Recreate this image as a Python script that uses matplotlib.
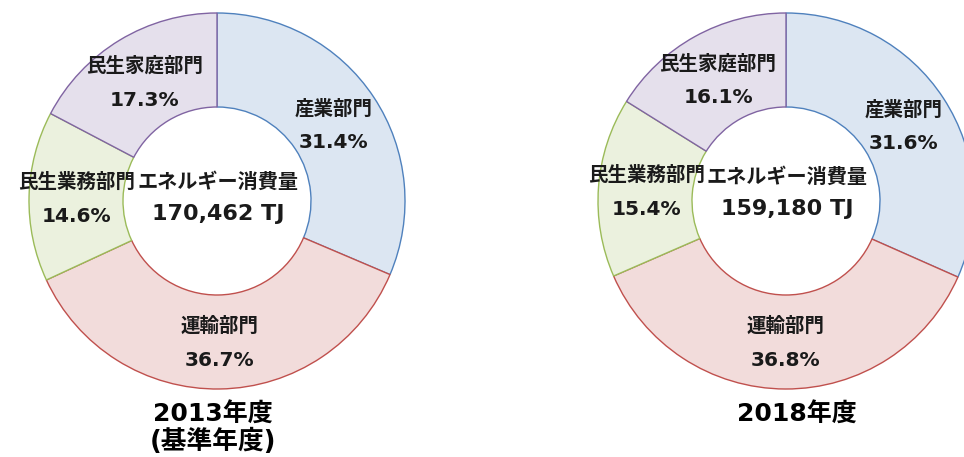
import matplotlib
matplotlib.use("Agg")
import matplotlib.pyplot as plt
import numpy as np

plt.rcParams['font.family'] = ['Noto Sans CJK JP', 'DejaVu Sans']

# ---- data ----
sectors = ['産業部門', '運輸部門', '民生業務部門', '民生家庭部門']
share_2013 = [31.4, 36.7, 14.6, 17.3]
share_2018 = [31.6, 36.8, 15.4, 16.1]
total_2013 = '170,462 TJ'
total_2018 = '159,180 TJ'
title_2013 = ['2013年度', '(基準年度)']
title_2018 = ['2018年度']
center_label = 'エネルギー消費量'

fills = ['#dce6f2', '#f2dcdb', '#ebf1de', '#e5e0ec']
edges = ['#4f81bd', '#c0504d', '#9bbb59', '#8064a2']

W, H = 964, 457
fig = plt.figure(figsize=(W / 100, H / 100), dpi=100)
ax = fig.add_axes([0, 0, 1, 1])
ax.set_xlim(0, W)
ax.set_ylim(0, H)
ax.axis('off')

R = 188
NUMF = ['DejaVu Sans', 'Noto Sans CJK JP']
TXT = '#1a1a1a'


def donut(cx, cy_px, shares, total, titles, title_x, center_dy):
    cy = H - cy_px
    wedges, _ = ax.pie(shares, colors=fills, startangle=90, counterclock=False,
                       radius=R, center=(cx, cy),
                       wedgeprops=dict(width=R * 0.5, linewidth=1.0),
                       frame=True)
    for w, ec in zip(wedges, edges):
        w.set_edgecolor(ec)
    for w, name, s in zip(wedges, sectors, shares):
        ang = np.deg2rad((w.theta1 + w.theta2) / 2)
        r = R * 0.745
        x = cx + r * np.cos(ang)
        y = cy + r * np.sin(ang) - 2
        ax.text(x, y + 17, name, ha='center', va='center', fontsize=14,
                fontweight='bold', color=TXT)
        ax.text(x, y - 17, f'{s:.1f}%', ha='center', va='center', fontsize=14.5,
                fontweight='bold', color=TXT, family=NUMF)
    ax.text(cx + 1, cy + center_dy + 16, center_label, ha='center', va='center',
            fontsize=14.5, fontweight='bold', color=TXT)
    ax.text(cx + 1, cy + center_dy - 17, total, ha='center', va='center',
            fontsize=16, fontweight='bold', color=TXT, family=NUMF)
    for i, t in enumerate(titles):
        ax.text(title_x, H - 415 - 27 * i, t, ha='center', va='center',
                fontsize=18 if i == 0 else 18.5, fontweight='bold',
                color='black', family=NUMF)


donut(217, 201, share_2013, total_2013, title_2013, 213, 4)
donut(786, 201, share_2018, total_2018, title_2018, 797, 9)

ax.set_xlim(0, W)
ax.set_ylim(0, H)
ax.set_aspect('auto')
ax.axis('off')

fig.savefig('out.png', dpi=100, facecolor='white')
